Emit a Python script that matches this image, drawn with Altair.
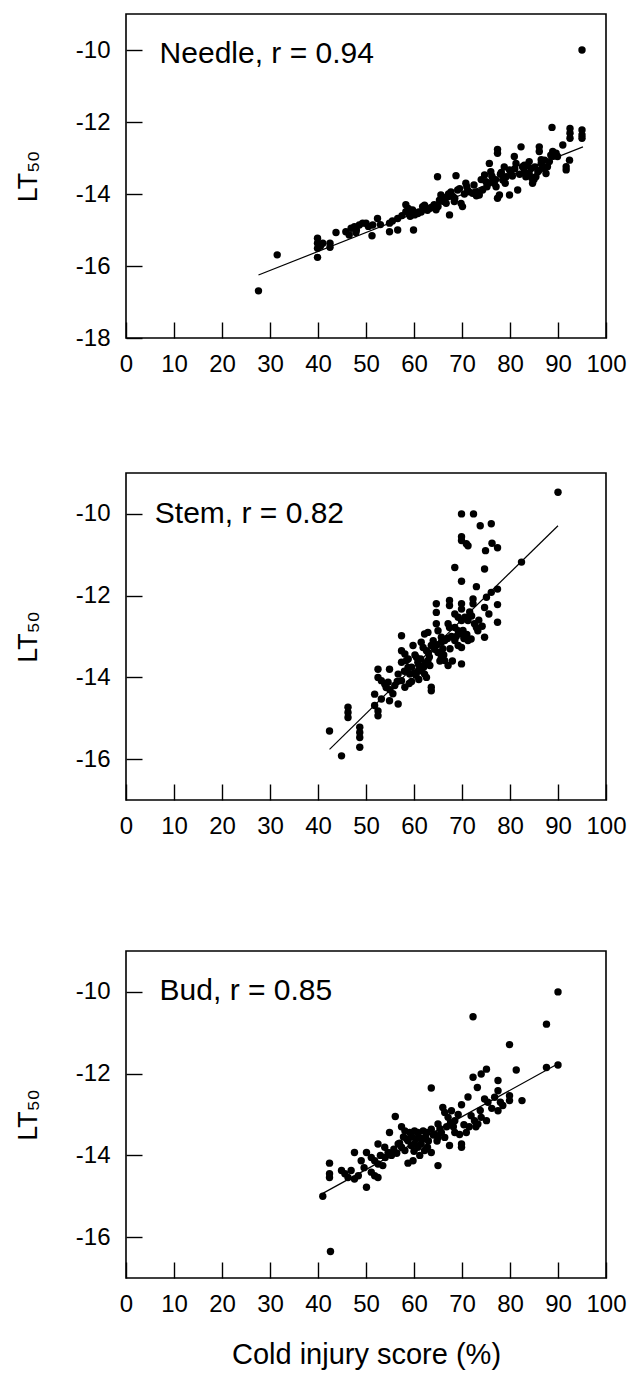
import altair as alt
import pandas as pd

FONT = "Liberation Sans"

# ---------------- data ----------------
x_ticks = [0, 10, 20, 30, 40, 50, 60, 70, 80, 90, 100]
needle_yticks = [-18, -16, -14, -12, -10]
other_yticks = [-16, -14, -12, -10]

# Needle
needle_x = [95.0, 27.6, 31.5, 39.9, 39.9, 39.9, 39.9, 41.0, 42.5, 42.5, 43.75, 45.8, 46.5, 46.9, 47.6, 47.9,
            48.6, 49.3, 50.0, 51.25, 51.4, 52.4, 54.9, 54.9, 56.6, 56.6, 58.3, 58.3, 59.9, 59.7, 60.1, 60.8,
            61.8, 62.2, 63.2, 63.9, 64.6, 64.9, 65.3, 65.6, 66.7, 67.0, 67.4, 67.7, 68.1, 68.4, 68.75, 69.1,
            69.8, 70.1, 70.8, 71.5, 72.2, 73.6, 74.3, 74.7, 75.0, 75.7, 76.0, 76.4, 76.7, 77.1, 77.4, 77.4,
            77.8, 77.4, 78.5, 79.2, 79.9, 79.9, 80.2, 80.9, 81.25, 81.6, 82.3, 82.6, 83.0, 83.3, 84.0, 84.4,
            84.7, 85.4, 85.8, 86.1, 86.1, 86.5, 86.8, 87.2, 87.5, 87.8, 88.5, 88.9, 88.75, 89.6, 89.9, 91.0,
            91.7, 91.7, 92.4, 92.5, 92.5, 92.5, 95.0, 95.0, 95.0,
            62.8, 61.0, 59.0, 57.5, 55.5, 53.0, 71.0, 72.8, 73.0, 75.5, 78.0, 79.0, 83.5, 85.0, 86.0, 84.0,
            61.5, 62.5, 63.5, 64.2, 65.0, 66.0, 66.2, 67.2, 68.5, 69.5, 70.5, 71.2, 72.5, 73.3, 74.0, 75.2,
            76.2, 77.0, 78.2, 78.8, 80.5, 81.0, 82.0, 83.0, 84.5, 85.2, 86.5, 87.2, 88.2, 89.0, 40.5, 48.0,
            50.5, 58.8, 59.2]
needle_y = [-10.0, -16.69, -15.69, -15.23, -15.37, -15.51, -15.76, -15.37, -15.37, -15.48, -15.07, -15.05,
            -15.14, -14.95, -14.91, -15.07, -14.86, -14.81, -14.81, -15.16, -14.86, -14.68, -14.81, -15.05,
            -15.0, -14.68, -14.3, -14.49, -15.0, -14.44, -14.58, -14.54, -14.35, -14.31, -14.4, -14.35,
            -14.44, -13.52, -14.17, -14.03, -14.26, -14.07, -14.58, -13.94, -14.07, -14.21, -13.49, -13.89,
            -14.26, -14.35, -13.7, -13.94, -13.98, -14.03, -13.89, -13.47, -13.66, -13.15, -13.38, -13.56,
            -13.7, -13.8, -12.76, -12.87, -14.03, -14.12, -13.61, -13.52, -14.03, -13.33, -13.43, -12.96,
            -13.15, -13.89, -12.69, -13.24, -13.38, -13.52, -13.43, -13.29, -13.7, -13.52, -13.38, -12.69,
            -12.82, -13.15, -13.24, -13.06, -13.43, -13.24, -12.92, -12.82, -12.15, -12.87, -12.96, -12.64,
            -13.24, -13.33, -13.06, -12.18, -12.31, -12.45, -12.22, -12.36, -12.45,
            -14.45, -14.5, -14.55, -14.6, -14.75, -14.85, -13.8, -13.95, -14.05, -13.7, -13.45, -13.7,
            -13.2, -13.6, -13.35, -13.1,
            -14.5, -14.42, -14.38, -14.3, -14.35, -14.2, -14.1, -14.0, -14.12, -13.85, -14.0, -13.9,
            -13.75, -13.95, -13.6, -13.8, -13.5, -13.6, -13.4, -13.25, -13.5, -13.3, -13.45, -13.2,
            -13.55, -13.25, -13.05, -13.3, -13.1, -12.95, -15.45, -15.0, -14.9, -14.4, -14.62]
needle_fit_x = [27.6, 95.2]
needle_fit_y = [-16.25, -12.69]

# Stem
stem_x = [90.0, 69.9, 72.4, 73.8, 76.1, 69.9, 69.9, 70.9, 71.25, 74.9, 76.25, 77.4, 82.4, 68.5, 74.7, 69.9,
          73.0, 77.4, 76.1, 75.1, 72.3, 72.3, 67.4, 67.4, 64.65, 64.65, 77.4, 69.9, 69.9, 74.7, 68.5, 69.2,
          69.9, 70.6, 71.25, 77.4, 64.65, 65.0, 67.1, 67.4, 72.6, 73.0, 73.3, 68.5, 69.2, 69.9, 62.2, 62.9,
          74.7, 57.4, 65.7, 66.4, 65.7, 68.5, 69.2, 71.25, 71.9, 61.5, 61.9, 59.8, 57.4, 63.6, 64.3, 65.0,
          65.7, 66.4, 67.1, 69.9, 58.1, 58.4, 60.5, 60.8, 62.9, 63.3, 57.4, 69.9, 58.75, 59.1, 61.5, 62.2,
          62.6, 52.5, 52.5, 54.9, 56.7, 57.4, 58.1, 53.2, 53.9, 54.6, 63.6, 63.6, 51.8, 53.2, 54.9, 56.7,
          51.8, 52.5, 52.5, 46.25, 46.25, 46.25, 42.4, 48.7, 48.7, 48.7, 48.7, 44.9,
          60.0, 61.0, 63.0, 66.0, 67.5, 68.0, 59.5, 61.0, 56.0, 55.0,
          58.0, 58.8, 59.5, 60.2, 60.8, 61.4, 62.0, 62.6, 63.2, 64.0, 64.8, 65.4, 66.2, 67.0, 67.8, 68.8,
          70.2, 71.0, 72.0, 73.5, 74.2, 75.6, 71.6, 70.4, 56.5, 55.6, 54.2, 59.0, 60.4, 62.4]
stem_y = [-9.47, -10.0, -10.0, -10.29, -10.24, -10.56, -10.65, -10.73, -10.78, -10.9, -10.72, -10.83,
          -11.18, -11.31, -11.35, -11.65, -11.78, -11.84, -11.92, -12.04, -12.08, -12.2, -12.12, -12.24,
          -12.2, -12.41, -12.22, -12.2, -12.33, -12.29, -12.45, -12.53, -12.61, -12.53, -12.61, -12.65,
          -12.69, -12.86, -12.69, -12.78, -12.69, -12.78, -12.86, -12.78, -12.86, -12.94, -12.94, -12.9,
          -13.02, -12.98, -13.02, -13.1, -13.14, -13.1, -13.22, -13.1, -13.06, -13.14, -13.27, -13.22,
          -13.35, -13.22, -13.31, -13.39, -13.51, -13.59, -13.71, -13.27, -13.43, -13.59, -13.51, -13.63,
          -13.59, -13.71, -13.63, -13.67, -13.76, -13.92, -13.84, -13.92, -14.0, -13.8, -14.0, -13.8,
          -13.92, -14.08, -14.24, -14.08, -14.16, -14.12, -14.24, -14.33, -14.41, -14.53, -14.57, -14.65,
          -14.69, -14.82, -14.94, -14.73, -14.86, -14.98, -15.31, -15.22, -15.35, -15.47, -15.71, -15.92,
          -13.9, -13.7, -13.4, -13.3, -13.3, -13.6, -14.1, -14.05, -14.2, -14.3,
          -13.85, -13.55, -13.75, -13.45, -13.85, -13.55, -13.75, -13.35, -13.5, -13.1, -13.2, -13.6,
          -13.45, -13.05, -13.0, -13.0, -12.85, -12.95, -12.5, -12.6, -12.75, -12.45, -12.4, -13.05,
          -14.1, -14.4, -14.25, -14.15, -13.95, -13.65]
stem_fit_x = [42.4, 90.0]
stem_fit_y = [-15.76, -10.29]

# Bud
bud_x = [90.0, 72.3, 87.6, 79.9, 81.3, 87.6, 90.0, 75.1, 74.0, 72.3, 73.2, 63.6, 77.5, 77.5, 79.9, 79.9,
         82.5, 71.25, 69.9, 74.7, 76.8, 75.4, 78.5, 77.5, 66.0, 67.8, 66.4, 65.0, 67.1, 68.5, 71.9, 72.6,
         74.0, 75.1, 73.3, 56.1, 54.9, 57.4, 58.1, 59.1, 60.1, 60.8, 61.9, 62.6, 63.6, 64.3, 65.0, 65.7,
         66.4, 68.5, 69.5, 70.9, 69.9, 69.9, 67.4, 52.5, 53.9, 54.6, 55.3, 56.7, 57.4, 58.1, 58.75, 59.4,
         60.1, 60.8, 61.5, 62.2, 63.6, 61.2, 59.8, 58.75, 65.0, 47.6, 49.0, 50.1, 51.1, 51.8, 52.5, 53.5,
         42.4, 42.4, 42.4, 44.9, 45.6, 46.25, 46.9, 47.6, 50.1, 51.1, 51.8, 52.5, 41.0, 42.6,
         57.8, 58.5, 59.6, 60.4, 61.0, 61.8, 62.4, 63.0, 64.0, 64.8, 65.4, 66.8, 67.6, 68.2, 69.2, 70.4,
         71.5, 72.9, 73.8, 76.2, 78.0, 55.8, 56.4, 54.0, 53.0, 49.6, 48.4, 57.0, 60.0, 62.8]
bud_y = [-10.0, -10.61, -10.79, -11.29, -11.91, -11.85, -11.79, -11.89, -12.01, -12.09, -12.34, -12.35,
         -12.17, -12.42, -12.54, -12.66, -12.66, -12.57, -12.76, -12.62, -12.58, -12.7, -12.78, -12.91,
         -12.83, -12.91, -12.95, -13.23, -13.07, -13.15, -13.03, -13.15, -13.07, -13.15, -13.23, -13.05,
         -13.44, -13.3, -13.4, -13.44, -13.4, -13.44, -13.4, -13.44, -13.36, -13.48, -13.56, -13.44,
         -13.56, -13.44, -13.49, -13.44, -13.72, -13.8, -13.76, -13.72, -13.8, -13.93, -14.0, -13.72,
         -13.8, -13.88, -13.64, -13.76, -13.72, -13.8, -13.72, -13.88, -13.93, -14.0, -14.13, -14.19,
         -14.25, -13.93, -14.13, -13.93, -14.05, -14.13, -14.21, -14.25, -14.19, -14.45, -14.54, -14.37,
         -14.45, -14.54, -14.37, -14.58, -14.78, -14.41, -14.5, -14.54, -15.0, -16.35,
         -13.55, -13.6, -13.55, -13.6, -13.55, -13.6, -13.55, -13.65, -13.5, -13.65, -13.35, -13.3,
         -13.2, -13.3, -13.0, -13.25, -13.3, -13.3, -12.9, -12.85, -12.7, -13.85, -13.95, -14.05,
         -14.0, -14.3, -14.5, -13.7, -13.9, -13.8]
bud_fit_x = [41.0, 90.0]
bud_fit_y = [-14.93, -11.76]

labels = ["Needle, r = 0.94", "Stem, r = 0.82", "Bud, r = 0.85"]
label_x = [7.0, 6.0, 7.0]
label_y = [-10.1, -10.0, -9.97]


def panel(xs, ys, fx, fy, text, tx, ty, ydom, yticks, h, xtitle=None):
    pts = pd.DataFrame({"x": xs, "y": ys})
    fit = pd.DataFrame({"x": fx, "y": fy})
    lab = pd.DataFrame({"x": [tx], "y": [ty], "t": [text]})

    xscale = alt.Scale(domain=[0, 100], nice=False, zero=False)
    yscale = alt.Scale(domain=ydom, nice=False, zero=False)
    xaxis = alt.Axis(values=x_ticks, tickSize=16, offset=-16, domain=False, grid=False,
                     labelPadding=14, labelFontSize=24, labelFont=FONT, labelColor="black",
                     labelFlush=False, labelOverlap=False, tickColor="black", tickWidth=1.4,
                     titleFont=FONT, titleFontSize=29, titleFontWeight="normal",
                     titleColor="black", titlePadding=24)
    yaxis = alt.Axis(values=yticks, tickSize=16, offset=-16, domain=False, grid=False,
                     labelPadding=16, labelFontSize=24, labelFont=FONT, labelColor="black",
                     labelFlush=False, labelOverlap=False, tickColor="black", tickWidth=1.4,
                     labelExpr="replace(datum.label, '\u2212', '-')",
                     titleFont=FONT, titleFontSize=27, titleFontWeight="normal",
                     titleColor="black", titlePadding=33)

    xenc = alt.X("x:Q", scale=xscale, axis=xaxis, title=xtitle)
    yenc = alt.Y("y:Q", scale=yscale, axis=yaxis, title="LT₅₀")

    points = alt.Chart(pts).mark_circle(size=55, color="black", opacity=1).encode(x=xenc, y=yenc)
    line = alt.Chart(fit).mark_line(color="black", strokeWidth=1.2).encode(x="x:Q", y="y:Q")
    txt = alt.Chart(lab).mark_text(align="left", baseline="middle", fontSize=30, font=FONT,
                                   color="black").encode(x="x:Q", y="y:Q", text="t:N")
    return alt.layer(points, line, txt).properties(
        width=480, height=h,
        view=alt.ViewBackground(stroke="black", strokeWidth=1.6, fill="white"))


p1 = panel(needle_x, needle_y, needle_fit_x, needle_fit_y, labels[0], label_x[0], label_y[0],
           [-18, -9], needle_yticks, 324)
p2 = panel(stem_x, stem_y, stem_fit_x, stem_fit_y, labels[1], label_x[1], label_y[1],
           [-17, -9], other_yticks, 327)
p3 = panel(bud_x, bud_y, bud_fit_x, bud_fit_y, labels[2], label_x[2], label_y[2],
           [-17, -9], other_yticks, 327, xtitle="Cold injury score (%)")

top = alt.vconcat(p1, p2, spacing=95)
chart = alt.vconcat(top, p3, spacing=111).properties(
    padding={"left": 5, "top": 5, "right": 0, "bottom": 0}
).configure_view(stroke="black", strokeWidth=1.6).configure(background="white")

chart.save("out.html", embed_options={"renderer": "svg", "actions": False})
